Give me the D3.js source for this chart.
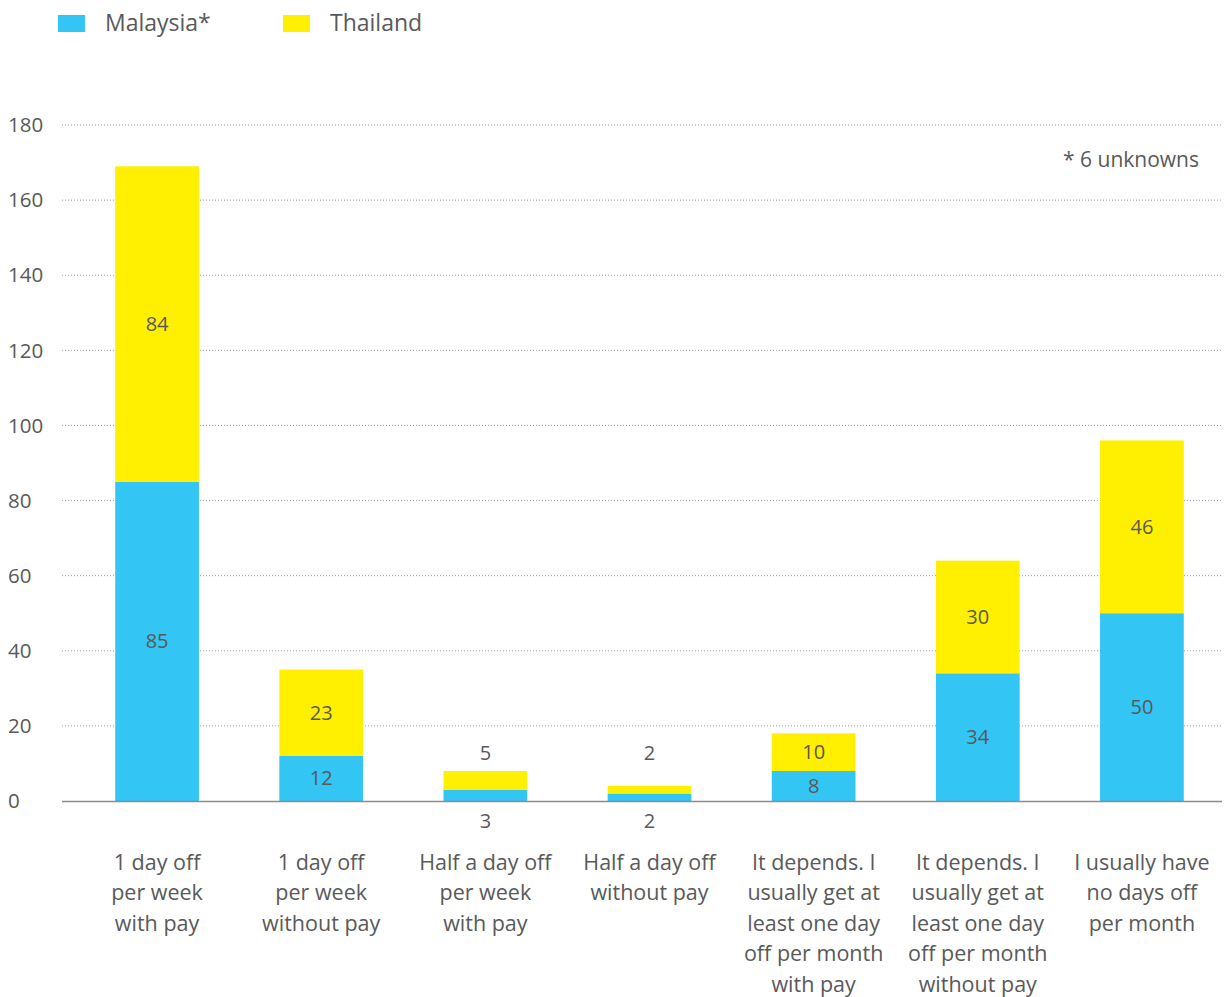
<!DOCTYPE html>
<html>
<head>
<meta charset="utf-8">
<script src="https://cdn.jsdelivr.net/npm/d3@7"></script>
<style>
  body { margin: 0; background: #fff; }
  text { font-family: "Open Sans", sans-serif; fill: #595959; }
</style>
</head>
<body>
<div id="chart"></div>
<script>
const categories = [
    ['1 day off', 'per week', 'with pay'],
    ['1 day off', 'per week', 'without pay'],
    ['Half a day off', 'per week', 'with pay'],
    ['Half a day off', 'without pay'],
    ['It depends. I', 'usually get at', 'least one day', 'off per month', 'with pay'],
    ['It depends. I', 'usually get at', 'least one day', 'off per month', 'without pay'],
    ['I usually have', 'no days off', 'per month']
];
const malaysia = [85, 12, 3, 2, 8, 34, 50];
const thailand = [84, 23, 5, 2, 10, 30, 46];
const seriesNames = ['Malaysia*', 'Thailand'];
const yTicks = [0, 20, 40, 60, 80, 100, 120, 140, 160, 180];
const note = '* 6 unknowns';

document.addEventListener('DOMContentLoaded', function () {
    const width = 1228, height = 997;
    const colors = { 'Malaysia*': '#33c5f3', 'Thailand': '#ffef00' };

    const svg = d3.select('#chart').append('svg')
        .attr('width', width)
        .attr('height', height);

    const x = d3.scaleBand()
        .domain(d3.range(categories.length))
        .range([75, 1224])
        .paddingInner(0.49)
        .paddingOuter(0.245);
    const y = d3.scaleLinear().domain([0, 180]).range([801, 125]);

    const gridLeft = 62, gridRight = 1222;

    // grid lines
    svg.append('g')
        .selectAll('line')
        .data(yTicks.filter(d => d > 0))
        .enter().append('line')
        .attr('x1', gridLeft)
        .attr('x2', gridRight)
        .attr('y1', d => y(d))
        .attr('y2', d => y(d))
        .style('stroke', '#9a9a9a')
        .style('stroke-width', 1)
        .style('stroke-dasharray', '1,2');

    // y tick labels
    svg.append('g')
        .selectAll('text')
        .data(yTicks)
        .enter().append('text')
        .attr('x', 8)
        .attr('y', d => y(d))
        .attr('dy', '0.35em')
        .style('font-size', '20.5px')
        .text(d => d);

    const stacked = d3.stack().keys(seriesNames)(
        malaysia.map((m, i) => ({ 'Malaysia*': m, 'Thailand': thailand[i] }))
    );

    svg.append('g')
        .selectAll('g')
        .data(stacked)
        .enter().append('g')
        .style('fill', d => colors[d.key])
        .selectAll('rect')
        .data(d => d)
        .enter().append('rect')
        .attr('x', (d, i) => x(i))
        .attr('width', x.bandwidth())
        .attr('y', d => y(d[1]))
        .attr('height', d => y(d[0]) - y(d[1]));

    // axis line
    svg.append('line')
        .attr('x1', gridLeft)
        .attr('x2', gridRight)
        .attr('y1', y(0) + 0.5)
        .attr('y2', y(0) + 0.5)
        .style('stroke', '#8c8c8c')
        .style('stroke-width', 1.5);

    // value labels
    stacked.forEach((s, si) => {
        svg.append('g')
            .selectAll('text')
            .data(s)
            .enter().append('text')
            .attr('x', (d, i) => x(i) + x.bandwidth() / 2)
            .attr('y', d => {
                const small = (d[1] - d[0]) < 6;
                if (small) return si === 0 ? y(0) + 20 : y(0) - 48;
                return (y(d[0]) + y(d[1])) / 2;
            })
            .attr('dy', '0.35em')
            .attr('text-anchor', 'middle')
            .style('font-size', '20px')
            .text(d => d[1] - d[0]);
    });

    // category labels
    const cat = svg.append('g')
        .selectAll('text')
        .data(categories)
        .enter().append('text')
        .attr('x', (d, i) => x(i) + x.bandwidth() / 2)
        .attr('y', 862)
        .attr('text-anchor', 'middle')
        .style('font-size', '21.5px');
    cat.selectAll('tspan')
        .data(d => d)
        .enter().append('tspan')
        .attr('x', function () { return d3.select(this.parentNode).attr('x'); })
        .attr('dy', (d, i) => i === 0 ? '0.35em' : '30.5px')
        .text(d => d);

    // legend
    const legend = svg.append('g')
        .selectAll('g')
        .data(seriesNames)
        .enter().append('g')
        .attr('transform', (d, i) => `translate(${58 + i * 225},0)`);
    legend.append('rect')
        .attr('y', 15)
        .attr('width', 27)
        .attr('height', 17)
        .style('fill', d => colors[d]);
    legend.append('text')
        .attr('x', 47)
        .attr('y', 23)
        .attr('dy', '0.35em')
        .style('font-size', '23px')
        .text(d => d);

    svg.append('text')
        .attr('x', 1199)
        .attr('y', 160)
        .attr('dy', '0.35em')
        .attr('text-anchor', 'end')
        .style('font-size', '21px')
        .text(note);
});
</script>
</body>
</html>
